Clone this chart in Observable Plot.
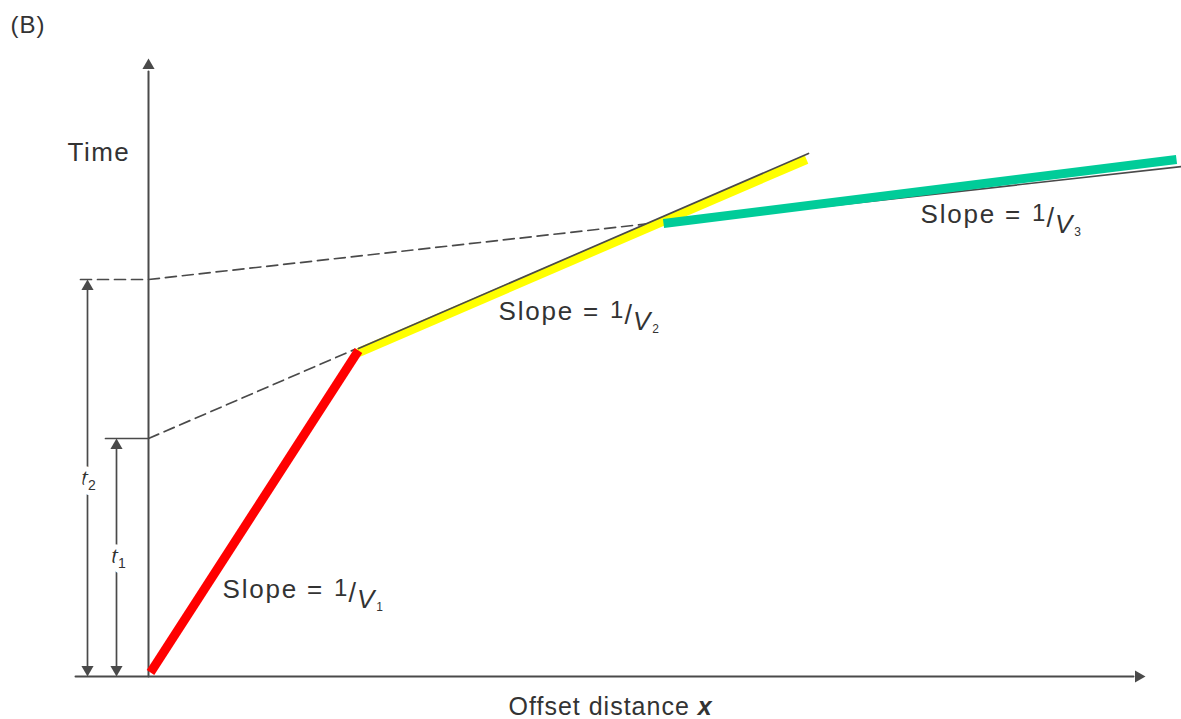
<!DOCTYPE html>
<html><head><meta charset="utf-8">
<script src="https://cdn.jsdelivr.net/npm/d3@7"></script>
<script src="https://cdn.jsdelivr.net/npm/@observablehq/plot@0.6"></script>
<style>body{margin:0;background:#fff;overflow:hidden}</style>
</head><body><div id="chart"></div>
<script>
// Travel-time (offset x vs time) diagram, values in arbitrary diagram units
const directWave   = [{x: 0.2, t: 0.4}, {x: 21.0, t: 32.6}];            // slope 1/V1
const refracted2   = [{x: 21.0, t: 32.4}, {x: 65.8, t: 51.7}];          // slope 1/V2 (coloured)
const refracted2Ln = [{x: 21.0, t: 32.8}, {x: 66.0, t: 52.3}];          // thin line along it
const refracted3   = [{x: 51.5, t: 45.3}, {x: 102.8, t: 51.7}];         // slope 1/V3 (coloured)
const refracted3Ln = [{x: 51.4, t: 45.2}, {x: 103.3, t: 51.0}];         // thin line along it
const intercept1   = [{x: 0, t: 23.8}, {x: 20.6, t: 32.7}];             // dashed back-extension -> t1
const intercept2   = [{x: -6.8, t: 39.7}, {x: 0, t: 39.7}, {x: 50.2, t: 45.3}]; // dashed -> t2
const t1Tick       = [{x: -4.3, t: 23.8}, {x: 0, t: 23.8}];
const yAxisLine    = [{x: 0, t: 0}, {x: 0, t: 60.5}];
const xAxisLine    = [{x: -7.3, t: 0}, {x: 98.5, t: 0}];
const t2Span       = [{x: -6.1, t: 0.5}, {x: -6.1, t: 39.2}];
const t1Span       = [{x: -3.2, t: 0.5}, {x: -3.2, t: 23.3}];
const upTips       = [{x: 0, t: 61.8}, {x: -6.1, t: 39.7}, {x: -3.2, t: 23.8}];
const downTips     = [{x: -6.1, t: 0}, {x: -3.2, t: 0}];
const rightTips    = [{x: 99.7, t: 0}];
const labels = [
  {x: -13.8, t: 65.1, text: "(B)", size: 24, spacing: 1},
  {x: -8.1, t: 52.4, text: "Time", size: 26, spacing: 1.5},
  {x: 7.4, t: 8.7, text: "Slope = 1/V1", size: 26, spacing: 1.8},
  {x: 35.0, t: 36.5, text: "Slope = 1/V2", size: 26, spacing: 1.8},
  {x: 77.2, t: 46.2, text: "Slope = 1/V3", size: 26, spacing: 1.8},
  {x: 36.0, t: -3.0, text: "Offset distance x", size: 25, spacing: 1.0}
];
const spanLabels = [
  {x: -6.0, t: 19.9, text: "t2"},
  {x: -3.0, t: 12.1, text: "t1"}
];

const ink = "#4a4a4a";
const txt = "#333333";
const lw = 9;

const plot = Plot.plot({
  width: 1181, height: 719, margin: 0,
  x: {domain: [-14.8, 103.3], axis: null},
  y: {domain: [-4.3, 67.6], axis: null},
  style: {background: "#fff", fontFamily: "'Liberation Sans', Arial, sans-serif"},
  marks: [
    Plot.line(intercept2, {x: "x", y: "t", stroke: ink, strokeWidth: 1.7, strokeDasharray: "11,6"}),
    Plot.line(intercept1, {x: "x", y: "t", stroke: ink, strokeWidth: 1.7, strokeDasharray: "11,6"}),
    Plot.line(t1Tick, {x: "x", y: "t", stroke: ink, strokeWidth: 1.7}),
    Plot.line(yAxisLine, {x: "x", y: "t", stroke: ink, strokeWidth: 2}),
    Plot.line(xAxisLine, {x: "x", y: "t", stroke: ink, strokeWidth: 2}),
    Plot.line(t2Span, {x: "x", y: "t", stroke: ink, strokeWidth: 1.7}),
    Plot.line(t1Span, {x: "x", y: "t", stroke: ink, strokeWidth: 1.7}),
    Plot.dot(upTips, {x: "x", y: "t", symbol: "triangle", r: 4.5, fill: ink, dy: 7}),
    Plot.dot(downTips, {x: "x", y: "t", symbol: "triangle", r: 4.5, fill: ink, rotate: 180, dy: -7}),
    Plot.dot(rightTips, {x: "x", y: "t", symbol: "triangle", r: 4.5, fill: ink, rotate: 90, dx: -7}),
    Plot.line(refracted3Ln, {x: "x", y: "t", stroke: ink, strokeWidth: 1.7}),
    Plot.line(refracted2, {x: "x", y: "t", stroke: "#ffff00", strokeWidth: lw, strokeLinecap: "butt"}),
    Plot.line(refracted2Ln, {x: "x", y: "t", stroke: ink, strokeWidth: 1.7}),
    Plot.line(refracted3, {x: "x", y: "t", stroke: "#00cc99", strokeWidth: lw, strokeLinecap: "butt"}),
    Plot.line(directWave, {x: "x", y: "t", stroke: "#ff0000", strokeWidth: lw, strokeLinecap: "butt"}),
    Plot.text(labels, {x: "x", y: "t", text: "text", fontSize: "size", textAnchor: "start", fill: txt}),
    Plot.text(spanLabels, {x: "x", y: "t", text: "text", fontSize: 24, fill: txt, stroke: "white", strokeWidth: 10, paintOrder: "stroke", fontFamily: "'Liberation Serif', serif"})
  ]
});

const spacingOf = new Map(labels.map(d => [d.text, d.spacing]));
d3.select(plot).selectAll("text").each(function() {
  const s = this.textContent;
  const sel = d3.select(this);
  if (spacingOf.has(s)) sel.attr("letter-spacing", spacingOf.get(s));
  let m;
  if ((m = s.match(/^Slope = 1\/V(\d)$/))) {
    sel.text(null);
    sel.append("tspan").text("Slope = ");
    sel.append("tspan").attr("dy", "-2").attr("dx", "1").attr("letter-spacing", "0").attr("font-size", "24").text("1");
    sel.append("tspan").attr("dy", "6").attr("dx", "1").attr("letter-spacing", "0").attr("font-size", "27").text("/");
    sel.append("tspan").attr("dy", "6").attr("dx", "1").attr("letter-spacing", "0").attr("font-style", "italic").attr("font-size", "26").text("V");
    sel.append("tspan").attr("dy", "3").attr("dx", "2").attr("letter-spacing", "0").attr("font-size", "12").text(m[1]);
  } else if (s === "Offset distance x") {
    sel.text(null);
    sel.append("tspan").text("Offset distance ");
    sel.append("tspan").attr("font-style", "italic").attr("font-weight", "bold").text("x");
  } else if ((m = s.match(/^t(\d)$/))) {
    sel.text(null);
    sel.append("tspan").attr("font-style", "italic").text("t");
    sel.append("tspan").attr("dy", "5").attr("font-size", "14").attr("font-family", "'Liberation Sans', sans-serif").text(m[1]);
  }
});

document.getElementById("chart").appendChild(plot);
</script>
</body></html>
